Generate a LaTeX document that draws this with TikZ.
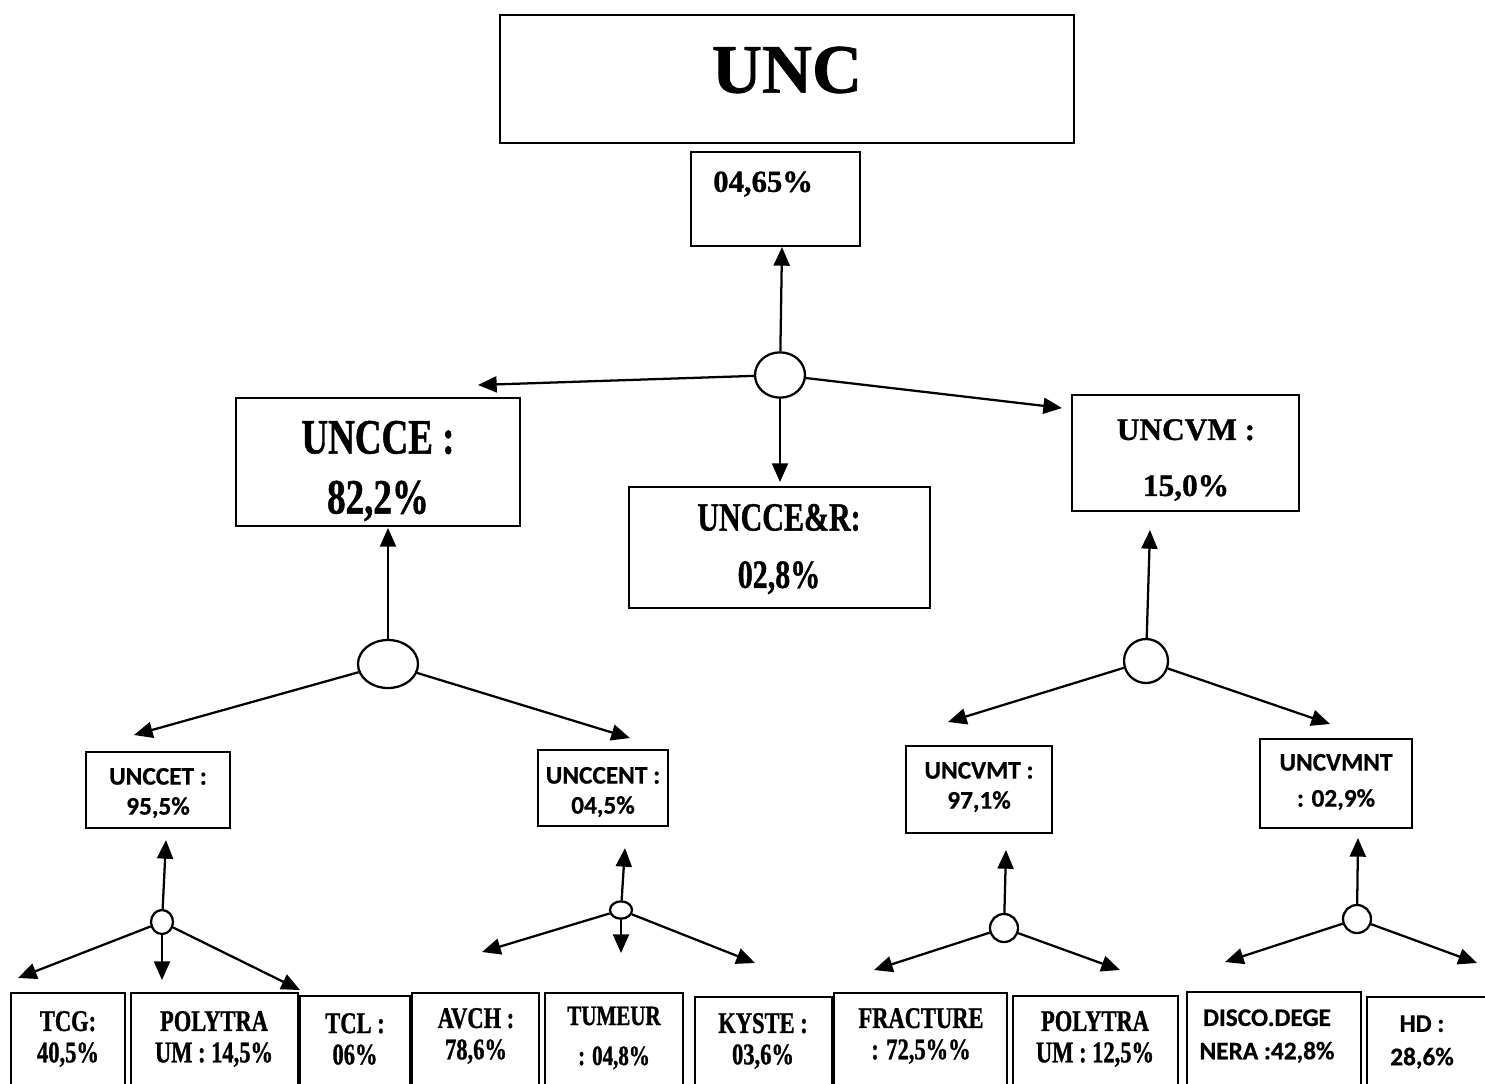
\documentclass[tikz,border=0pt]{standalone}
\usepackage{fontspec}
\setmainfont{Liberation Serif}[BoldFeatures={FakeBold=1}]
\newfontfamily\tnrcond[FakeStretch=0.75,BoldFeatures={FakeBold=1}]{Liberation Serif}
\newfontfamily\carl[BoldFeatures={FakeBold=0.6}]{Carlito}
\usetikzlibrary{arrows.meta,shapes.geometric,fit}
\begin{document}
\begin{tikzpicture}[x=0.75pt,y=-0.75pt,
  box/.style={draw,line width=1.7pt,inner sep=0pt},
  oval/.style={draw,ellipse,line width=1.7pt,inner sep=0pt},
  arr/.style={line width=1.7pt,-{Triangle[length=14pt,width=12pt]}},
  txt/.style={align=center,inner sep=0pt},
  big/.style={font=\bfseries\fontsize{52}{60}\selectfont},
  serA/.style={font=\tnrcond\bfseries\fontsize{37}{45}\selectfont},
  serB/.style={font=\tnrcond\bfseries\fontsize{30}{43}\selectfont},
  serC/.style={font=\bfseries\fontsize{23.5}{42}\selectfont},
  serD/.style={font=\tnrcond\bfseries\fontsize{22.5}{23.5}\selectfont},
  sanA/.style={font=\carl\bfseries\fontsize{19}{22.5}\selectfont},
]
\clip (0,0) rectangle (1485,1083);
% top boxes
\node[box,fit={(500,15) (1074,143)}] (unc) {};
\node[txt,big] (unc-t) at (787,70) {UNC};
\node[box,fit={(691,152) (860,246)}] (pct) {};
\node[txt,font=\bfseries\fontsize{23}{28}\selectfont,anchor=west] (pct-t) at (713,184) {04,65\%};
% level 2
\node[box,fit={(236,398) (520,526)}] (uncce) {};
\node[txt,serA] (uncce-t) at (378,471) {UNCCE :\\82,2\%};
\node[box,fit={(629,487) (930,608)}] (uncr) {};
\node[txt,serB] (uncr-t) at (779,549) {UNCCE\&R:\\02,8\%};
\node[box,fit={(1072,395) (1299,511)}] (uncvm) {};
\node[txt,serC] (uncvm-t) at (1186,460) {UNCVM :\\15,0\%};
% level 3
\node[box,fit={(86,752) (230,828)}] (uncet) {};
\node[txt,sanA] (uncet-t) at (158,793) {UNCCET :\\95,5\%};
\node[box,fit={(538,750) (668,826)}] (uncent) {};
\node[txt,sanA] (uncent-t) at (603,792) {UNCCENT :\\04,5\%};
\node[box,fit={(906,746) (1052,833)}] (uncvmt) {};
\node[txt,sanA] (uncvmt-t) at (979,787) {UNCVMT :\\97,1\%};
\node[box,fit={(1260,739) (1412,828)}] (uncvmnt) {};
\node[txt,font=\carl\bfseries\fontsize{19}{27}\selectfont] (uncvmnt-t) at (1336,782) {UNCVMNT\\: 02,9\%};
% bottom row
\node[box,fit={(11,993) (125,1100)}] (b1) {};
\node[txt,serD] (b1-t) at (68,1039) {TCG:\\40,5\%};
\node[box,fit={(131,993) (298,1100)}] (b2) {};
\node[txt,serD] (b2-t) at (214,1039) {POLYTRA\\UM : 14,5\%};
\node[box,fit={(300,996) (410,1100)}] (b3) {};
\node[txt,serD] (b3-t) at (355,1039) {TCL :\\06\%};
\node[box,fit={(412,993) (539,1100)}] (b4) {};
\node[txt,serD] (b4-t) at (476,1036) {AVCH :\\78,6\%};
\node[box,fit={(545,993) (683,1100)}] (b5) {};
\node[txt,font=\tnrcond\bfseries\fontsize{21}{30}\selectfont] (b5-t) at (614,1038) {TUMEUR\\: 04,8\%};
\node[box,fit={(695,997) (832,1100)}] (b6) {};
\node[txt,serD] (b6-t) at (763,1041) {KYSTE :\\03,6\%};
\node[box,fit={(834,993) (1007,1100)}] (b7) {};
\node[txt,serD] (b7-t) at (921,1036) {FRACTURE\\: 72,5\%\%};
\node[box,fit={(1013,996) (1178,1100)}] (b8) {};
\node[txt,serD] (b8-t) at (1095,1039) {POLYTRA\\UM : 12,5\%};
\node[box,fit={(1187,992) (1361,1100)}] (b9) {};
\node[txt,font=\carl\bfseries\fontsize{19}{25}\selectfont] (b9-t) at (1267,1036) {DISCO.DEGE\\NERA :42,8\%};
\node[box,fit={(1367,997) (1500,1100)}] (b10) {};
\node[txt,font=\carl\bfseries\fontsize{19}{25}\selectfont] (b10-t) at (1422,1042) {HD :\\28,6\%};
% junction ovals
\node[oval,minimum width=37.5pt,minimum height=34pt] (e0) at (780,375) {};
\node[oval,minimum width=45pt,minimum height=36pt] (e1) at (388,664) {};
\node[oval,minimum width=33pt,minimum height=33pt] (e2) at (1146,661) {};
\node[oval,minimum width=16.5pt,minimum height=18pt] (s1) at (162,922) {};
\node[oval,minimum width=16.5pt,minimum height=13pt] (s2) at (621,910) {};
\node[oval,minimum width=21pt,minimum height=21pt] (s3) at (1004,928) {};
\node[oval,minimum width=21pt,minimum height=21pt] (s4) at (1357,919) {};
% arrow tips
\coordinate (t0u) at (782,247);
\coordinate (t0l) at (478,385);
\coordinate (t0r) at (1062,408);
\coordinate (t0d) at (780,482);
\coordinate (t1u) at (388,528);
\coordinate (t1l) at (134,735);
\coordinate (t1r) at (630,738);
\coordinate (t2u) at (1150,530);
\coordinate (t2l) at (948,722);
\coordinate (t2r) at (1330,724);
\coordinate (u1) at (166,840);
\coordinate (l1) at (18,978);
\coordinate (d1) at (162,980);
\coordinate (r1) at (300,990);
\coordinate (u2) at (625,848);
\coordinate (l2) at (482,952);
\coordinate (d2) at (621,953);
\coordinate (r2) at (755,963);
\coordinate (u3) at (1006,850);
\coordinate (l3) at (874,970);
\coordinate (r3) at (1120,970);
\coordinate (u4) at (1358,838);
\coordinate (l4) at (1225,962);
\coordinate (r4) at (1477,963);
% connectors
\draw[arr] (e0) -- (t0u);
\draw[arr] (e0) -- (t0l);
\draw[arr] (e0) -- (t0r);
\draw[arr] (e0) -- (t0d);
\draw[arr] (e1) -- (t1u);
\draw[arr] (e1) -- (t1l);
\draw[arr] (e1) -- (t1r);
\draw[arr] (e2) -- (t2u);
\draw[arr] (e2) -- (t2l);
\draw[arr] (e2) -- (t2r);
\draw[arr] (s1) -- (u1);
\draw[arr] (s1) -- (l1);
\draw[arr] (s1) -- (d1);
\draw[arr] (s1) -- (r1);
\draw[arr] (s2) -- (u2);
\draw[arr] (s2) -- (l2);
\draw[arr] (s2) -- (d2);
\draw[arr] (s2) -- (r2);
\draw[arr] (s3) -- (u3);
\draw[arr] (s3) -- (l3);
\draw[arr] (s3) -- (r3);
\draw[arr] (s4) -- (u4);
\draw[arr] (s4) -- (l4);
\draw[arr] (s4) -- (r4);
\end{tikzpicture}
\end{document}
